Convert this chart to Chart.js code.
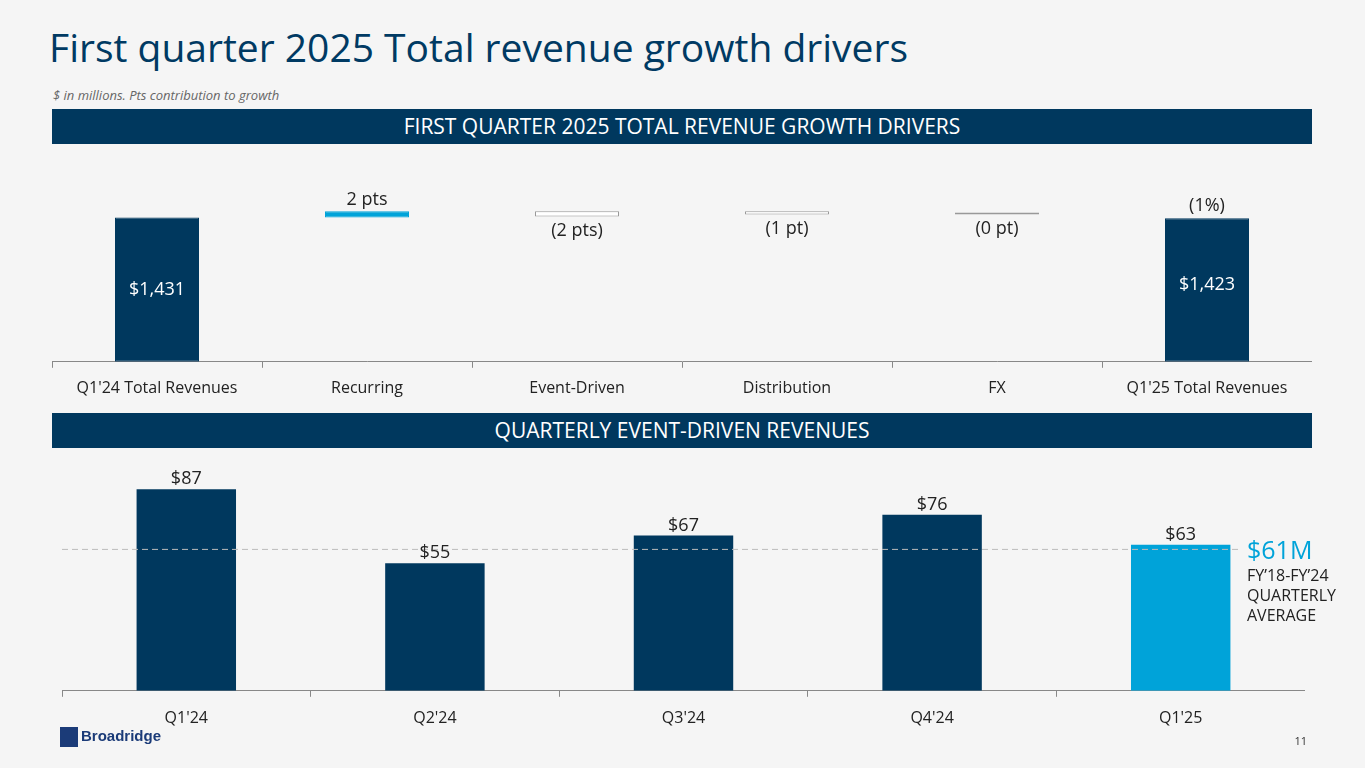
<!DOCTYPE html>
<html><head><meta charset="utf-8">
<script src="https://cdn.jsdelivr.net/npm/chart.js@4"></script>
<style>
body{margin:0;width:1365px;height:768px;background:#f5f5f5;font-family:"Open Sans",sans-serif;position:relative;overflow:hidden}
.t{position:absolute;left:49px;top:20px;font-size:39px;color:#003a63;letter-spacing:0px}
.s{position:absolute;left:53px;top:86px;font-size:13px;font-style:italic;color:#666}
.b{position:absolute;left:52px;width:1260px;height:35px;background:#00385e;color:#fff;font-size:21px;text-align:center;line-height:35px}
canvas{position:absolute}
.n{position:absolute;left:1247px;color:#00a3d9;font-size:25px;top:532px}
.m{position:absolute;left:1247px;top:565px;font-size:16px;color:#222;line-height:20px}
.pg{position:absolute;right:58px;top:733px;font-size:11px;color:#333}
.logo{position:absolute;left:60px;top:727px;font-size:15px;font-weight:bold;color:#1b3b78;font-family:"Liberation Sans",sans-serif}
.logo span{display:inline-block;width:18px;height:20px;background:#1b3b78;vertical-align:middle;margin-right:3px}
</style></head><body>
<div class="t">First quarter 2025 Total revenue growth drivers</div>
<div class="s">$ in millions. Pts contribution to growth</div>
<div class="b" style="top:109px">FIRST QUARTER 2025 TOTAL REVENUE GROWTH DRIVERS</div>
<div class="b" style="top:413px">QUARTERLY EVENT-DRIVEN REVENUES</div>
<canvas id="c1" style="left:52px;top:158px" width="1260" height="255"></canvas>
<canvas id="c2" style="left:62px;top:459px" width="1243" height="285"></canvas>
<div class="n">$61M</div>
<div class="m">FY’18-FY’24<br>QUARTERLY<br>AVERAGE</div>
<div class="logo"><span></span>Broadridge</div>
<div class="pg">11</div>
<script>
const driverCats=["Q1'24 Total Revenues","Recurring","Event-Driven","Distribution","FX","Q1'25 Total Revenues"];
const driverBars=[[0,1431],[1431,1491],[1441,1491],[1461,1491],[1461,1481],[0,1423]];
const driverLabels=["$1,431","2 pts","(2 pts)","(1 pt)","(0 pt)","$1,423"];
const driverColors=["#00385e","#00a3d9","#ffffff","#ffffff","#ffffff","#00385e"];
const quarterCats=["Q1'24","Q2'24","Q3'24","Q4'24","Q1'25"];
const quarterVals=[87,55,67,76,63];
const quarterColors=["#00385e","#00385e","#00385e","#00385e","#00a3d9"];
const avgValue=61;
Chart.defaults.font.family="'Open Sans',sans-serif";
Chart.defaults.animation=false;
const lbl1={id:'l1',afterDatasetsDraw(ch){const c=ch.ctx,m=ch.getDatasetMeta(0);c.save();c.font="18px 'Open Sans'";c.textAlign='center';
m.data.forEach((b,i)=>{let x=b.x;
if(i==0||i==5){c.fillStyle='#fff';c.textBaseline='middle';c.fillText(driverLabels[i],x,i==0?132:127);
if(i==5){c.fillStyle='#222';c.textBaseline='bottom';c.fillText('(1%)',x,b.y-3);}}
else if(i==1){c.fillStyle='#222';c.textBaseline='bottom';c.fillText(driverLabels[i],x,b.y-2);}
else{c.fillStyle='#222';c.textBaseline='top';c.fillText(driverLabels[i],x,b.base+5);}});c.restore();}};
new Chart(c1,{type:'bar',data:{labels:driverCats,datasets:[{data:driverBars,backgroundColor:driverColors,borderColor:driverColors.map(c=>c=='#ffffff'?'#999':c),borderWidth:1,borderSkipped:false,barPercentage:0.4,categoryPercentage:1}]},
options:{responsive:false,plugins:{legend:{display:false},tooltip:{enabled:false}},layout:{padding:{bottom:4}},
scales:{y:{display:false,min:0,max:2020},x:{grid:{offset:true,drawOnChartArea:false,color:'#888',tickLength:6},border:{color:'#888'},ticks:{color:'#222',font:{size:16},padding:11}}}},plugins:[lbl1]});
const lbl2={id:'l2',afterDatasetsDraw(ch){const c=ch.ctx,m=ch.getDatasetMeta(0),ys=ch.scales.y,a=ch.chartArea;c.save();
c.strokeStyle='#bbb';c.setLineDash([6,4]);c.lineWidth=1;const y=ys.getPixelForValue(avgValue);c.beginPath();c.moveTo(a.left,y);c.lineTo(1178,y);c.stroke();c.setLineDash([]);
c.font="18px 'Open Sans'";c.textAlign='center';c.textBaseline='bottom';c.fillStyle='#222';
m.data.forEach((b,i)=>c.fillText('$'+quarterVals[i],b.x,b.y-1));c.restore();}};
new Chart(c2,{type:'bar',data:{labels:quarterCats,datasets:[{data:quarterVals,backgroundColor:quarterColors,barPercentage:0.4,categoryPercentage:1}]},
options:{responsive:false,plugins:{legend:{display:false},tooltip:{enabled:false}},layout:{padding:{bottom:4}},
scales:{y:{display:false,min:0,max:100},x:{grid:{offset:true,drawOnChartArea:false,color:'#888',tickLength:6},border:{color:'#888'},ticks:{color:'#222',font:{size:16},padding:12}}}},plugins:[lbl2]});
</script></body></html>
